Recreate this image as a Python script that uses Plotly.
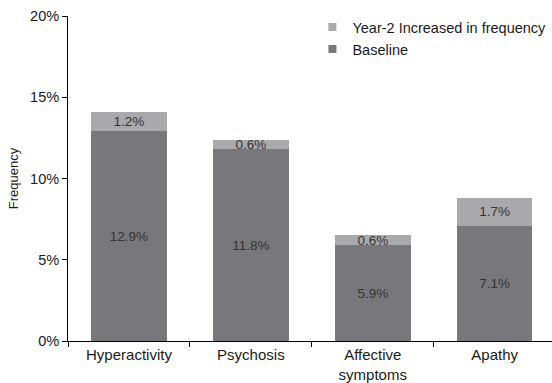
import plotly.graph_objects as go

categories = ["Hyperactivity", "Psychosis", "Affective<br>symptoms", "Apathy"]
baseline = [12.9, 11.8, 5.9, 7.1]
year2_increase = [1.2, 0.6, 0.6, 1.7]
y_ticks = [0, 5, 10, 15, 20]
y_tick_labels = ["0%", "5%", "10%", "15%", "20%"]

font = "Liberation Sans, Arial, sans-serif"
dark = "#78787c"
light = "#a9a9ac"

fig = go.Figure()
fig.add_trace(go.Bar(
    x=categories, y=baseline, name="Baseline", showlegend=False,
    marker=dict(color=dark, line=dict(width=0)),
    text=[f"{v:.1f}%" for v in baseline], textposition="inside",
    insidetextanchor="middle", textangle=0, constraintext="none",
    textfont=dict(color="#333333", size=13.5, family=font),
    width=0.62,
))
fig.add_trace(go.Bar(
    x=categories, y=year2_increase, name="Year-2 Increased in frequency", showlegend=False,
    marker=dict(color=light, line=dict(width=0)),
    text=[f"{v:.1f}%" for v in year2_increase], textposition="inside",
    insidetextanchor="middle", textangle=0, constraintext="none",
    textfont=dict(color="#333333", size=13.5, family=font),
    width=0.62,
))
# legend entries with small square markers
fig.add_trace(go.Scatter(x=[None], y=[None], mode="markers", name="Baseline",
                         marker=dict(symbol="square", size=8, color=dark)))
fig.add_trace(go.Scatter(x=[None], y=[None], mode="markers", name="Year-2 Increased in frequency",
                         marker=dict(symbol="square", size=8, color=light)))

fig.update_layout(
    barmode="stack",
    width=552, height=383,
    margin=dict(l=68, r=0, t=16, b=42),
    paper_bgcolor="white", plot_bgcolor="white",
    font=dict(family=font, size=14, color="#1a1a1a"),
    uniformtext=dict(minsize=13.5, mode="show"),
    showlegend=True,
    legend=dict(
        x=0.505, y=1.015, xanchor="left", yanchor="top",
        traceorder="reversed", bgcolor="rgba(0,0,0,0)",
        font=dict(size=14.5, family=font, color="#1a1a1a"),
        itemwidth=30, tracegroupgap=0,
    ),
    xaxis=dict(
        range=[-0.5, 3.47], showline=True, linecolor="black", linewidth=1,
        ticks="outside", ticklen=5, tickcolor="black", tickson="boundaries",
        showgrid=False, tickfont=dict(size=15, family=font, color="#1a1a1a"),
    ),
    yaxis=dict(
        range=[0, 20], tickvals=y_ticks, ticktext=y_tick_labels,
        showline=True, linecolor="black", linewidth=1,
        ticks="outside", ticklen=5, tickcolor="black",
        showgrid=False, zeroline=False,
        tickfont=dict(size=14.5, family=font, color="#1a1a1a"),
        title=dict(text="Frequency", font=dict(size=13, family=font, color="#1a1a1a"), standoff=8),
    ),
)
fig.write_html("out.html")
